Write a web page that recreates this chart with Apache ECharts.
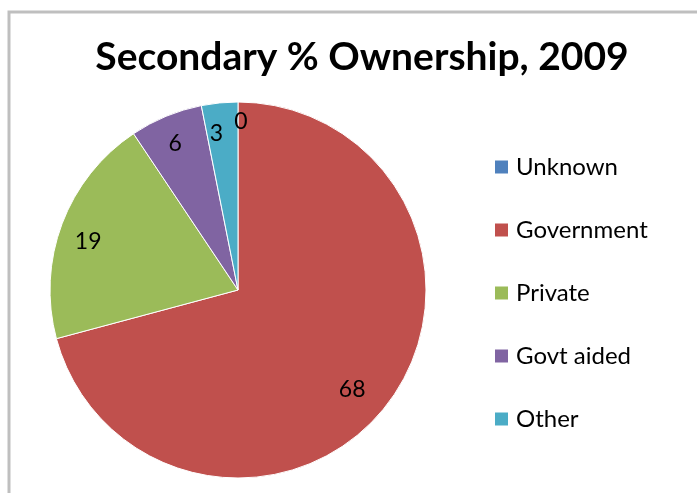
<!DOCTYPE html>
<html>
<head>
<meta charset="utf-8">
<script src="https://cdn.jsdelivr.net/npm/echarts@6/dist/echarts.min.js"></script>
<style>
  html, body { margin: 0; padding: 0; background: #fff; }
  #chart { width: 697px; height: 493px; }
</style>
</head>
<body>
<div id="chart"></div>
<script>
const categories = ['Unknown', 'Government', 'Private', 'Govt aided', 'Other'];
const shares = [0, 68, 19, 6, 3];
const colors = ['#4F81BD', '#C0504D', '#9BBB59', '#8064A2', '#4BACC6'];
// small nudges so the value labels sit where the original put them
const labelShift = [[3, -9], [-12, 3], [-1, 8], [-2, 0], [-6, 2]];

const chart = echarts.init(document.getElementById('chart'));

const data = categories.map((name, i) => ({
  name: name,
  value: shares[i],
  itemStyle: { color: colors[i] }
}));

const option = {
  animation: false,
  title: {
    text: 'Secondary % Ownership, 2009',
    left: 357,
    top: 33,
    textAlign: 'center',
    textStyle: {
      fontFamily: 'Lato',
      fontWeight: 'bold',
      fontSize: 39,
      color: '#000'
    }
  },
  legend: {
    orient: 'vertical',
    left: 488,
    top: 150,
    itemWidth: 15,
    itemHeight: 15,
    itemGap: 39,
    icon: 'rect',
    data: categories,
    textStyle: {
      fontFamily: 'Lato',
      fontSize: 24,
      color: '#000',
      padding: [0, 0, 0, 2]
    }
  },
  graphic: [{
    type: 'rect',
    shape: { x: 9, y: 12, width: 720, height: 520 },
    style: { fill: 'none', stroke: '#BFBFBF', lineWidth: 3 },
    silent: true
  }],
  series: [
    {
      // the visible pie
      type: 'pie',
      center: [238, 290],
      radius: [0, 188],
      startAngle: 90,
      clockwise: true,
      data: data,
      itemStyle: { borderColor: '#fff', borderWidth: 1 },
      label: { show: false },
      labelLine: { show: false },
      emphasis: { disabled: true }
    },
    {
      // outer ring only to place the value labels near the rim
      type: 'pie',
      center: [238, 290],
      radius: [124, 188],
      startAngle: 90,
      clockwise: true,
      silent: true,
      data: categories.map((name, i) => ({
        name: name,
        value: shares[i],
        label: { offset: labelShift[i] }
      })),
      itemStyle: { color: 'rgba(0,0,0,0)', borderWidth: 0 },
      label: {
        show: true,
        position: 'inside',
        formatter: '{c}',
        fontFamily: 'Lato',
        fontSize: 23,
        color: '#000'
      },
      labelLine: { show: false },
      emphasis: { disabled: true }
    }
  ]
};

chart.setOption(option);
</script>
</body>
</html>
